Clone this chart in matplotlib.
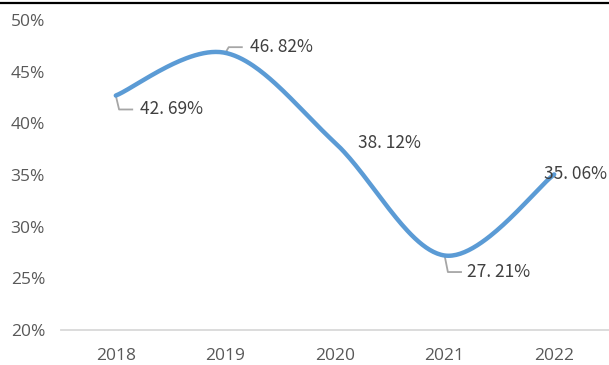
import matplotlib.pyplot as plt
import numpy as np
from matplotlib.lines import Line2D

years = ["2018", "2019", "2020", "2021", "2022"]
rates = [42.69, 46.82, 38.12, 27.21, 35.06]
y_ticks = [20, 25, 30, 35, 40, 45, 50]

# label offsets in data units (dx, dy) and whether a leader line is drawn
label_offsets = [(0.22, -1.35), (0.22, 0.55), (0.21, 0.0), (0.20, -1.6), (-0.09, 0.0)]
leaders = [True, True, False, True, False]

plt.rcParams["font.family"] = ["Noto Sans CJK SC", "DejaVu Sans"]


def smooth_curve(xs, ys, n=60):
    # cubic bezier segments through each point, catmull-rom style tangents
    xs = np.asarray(xs, float)
    ys = np.asarray(ys, float)
    px = np.concatenate([[xs[0]], xs, [xs[-1]]])
    py = np.concatenate([[ys[0]], ys, [ys[-1]]])
    out_x, out_y = [], []
    t = np.linspace(0, 1, n)
    for i in range(len(xs) - 1):
        p0 = np.array([px[i + 1], py[i + 1]])
        p3 = np.array([px[i + 2], py[i + 2]])
        p1 = p0 + (np.array([px[i + 2], py[i + 2]]) - np.array([px[i], py[i]])) / 6
        p2 = p3 - (np.array([px[i + 3], py[i + 3]]) - np.array([px[i + 1], py[i + 1]])) / 6
        b = ((1 - t) ** 3)[:, None] * p0 + (3 * (1 - t) ** 2 * t)[:, None] * p1 \
            + (3 * (1 - t) * t ** 2)[:, None] * p2 + (t ** 3)[:, None] * p3
        out_x.extend(b[:, 0])
        out_y.extend(b[:, 1])
    return out_x, out_y


fig = plt.figure(figsize=(6.09, 3.65), dpi=100)
ax = fig.add_axes([61 / 609, 35 / 365, 548 / 609, 310 / 365])

x = np.arange(len(years))
# scale x so the curve shape is computed in screen-like proportions
k = 109.75 / 51.7 * 5
sx, sy = smooth_curve(x * k, rates)
sx = np.array(sx) / k
ax.plot(sx, sy, color="#5B9BD5", lw=3.2, solid_capstyle="round", zorder=3)

for i, v in enumerate(rates):
    dx, dy = label_offsets[i]
    tx, ty = x[i] + dx, v + dy
    if leaders[i]:
        ax.plot([x[i], x[i] + 0.03, x[i] + 0.15], [v, ty, ty],
                color="#A6A6A6", lw=1.3, zorder=2)
    ax.text(tx, ty, f"{v:.2f}%".replace(".", ". "), fontsize=12.5, color="#404040",
            va="center", ha="left", zorder=4)

ax.set_xlim(-0.5, 4.5)
ax.set_ylim(20, 50)
ax.set_xticks(x)
ax.set_xticklabels(years)
ax.set_yticks(y_ticks)
ax.set_yticklabels([f"{t}%" for t in y_ticks])
ax.tick_params(length=0, labelsize=12.5, labelcolor="#595959")
for lbl in ax.get_xticklabels() + ax.get_yticklabels():
    lbl.set_family("Open Sans")
ax.tick_params(axis="x", pad=13)
ax.tick_params(axis="y", pad=11.5)
for s in ["top", "right", "left"]:
    ax.spines[s].set_visible(False)
ax.spines["bottom"].set_color("#D9D9D9")
ax.spines["bottom"].set_linewidth(1.3)

fig.add_artist(Line2D([0, 1], [1 - 2.5 / 365] * 2, color="black", lw=1.6))

fig.savefig("out.png", dpi=100)
plt.close(fig)
